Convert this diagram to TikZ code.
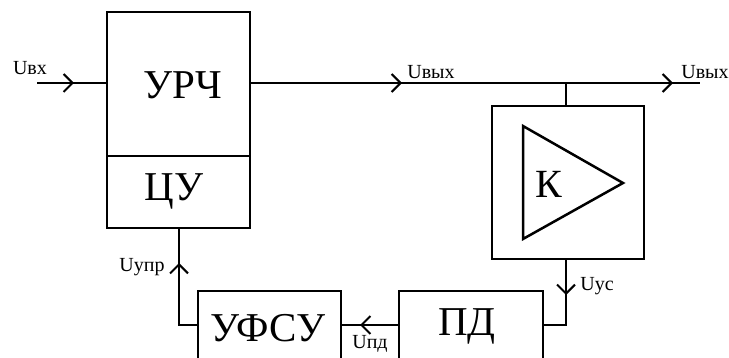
\documentclass[tikz,border=0pt]{standalone}
\usepackage{fontspec}
\setmainfont{Liberation Serif}
\usetikzlibrary{arrows.meta}
\begin{document}
\begin{tikzpicture}[x=1pt,y=-1pt,
  blk/.style={draw,line width=2pt,inner sep=0pt,font=\fontsize{41}{41}\selectfont},
  wire/.style={line width=2pt},
  tip/.style={line width=2pt,-{Straight Barb[length=9pt,width=18pt]}},
  lbl/.style={inner sep=0pt,font=\fontsize{20}{20}\selectfont}]
\useasboundingbox (0,0) rectangle (729,358);
\clip (0,0) rectangle (729,358);
% blocks
\node[blk,minimum width=143pt,minimum height=144pt] (urch) at (178.5,84) {};
\node[blk,minimum width=143pt,minimum height=72pt] (cu) at (178.5,192) {};
\node[blk,minimum width=152pt,minimum height=153pt] (k) at (568,182.5) {};
\node[blk,minimum width=143pt,minimum height=72pt,anchor=north] (ufsu) at (269.5,290) {};
\node[blk,minimum width=144pt,minimum height=72pt,anchor=north] (pd) at (471,290) {};
\node[blk,draw=none] (turch) at (183,85) {УРЧ};
\node[blk,draw=none] (tcu) at (174,191) {ЦУ};
\node[blk,draw=none] (tufsu) at (268,328) {УФСУ};
\node[blk,draw=none] (tpd) at (467,326) {ПД};
% amplifier triangle
\draw[line width=2.5pt,line join=miter] (523,126) coordinate (t1) -- (623,183) coordinate (t2) -- (523,239) coordinate (t3) -- cycle;
\node[inner sep=0pt,font=\fontsize{40}{40}\selectfont] (klbl) at (549,184) {К};
% coordinates
\coordinate (in) at (37,83);
\coordinate (inTip) at (74,83);
\coordinate (out) at (700,83);
\coordinate (j) at (566,83);
\coordinate (o1Tip) at (402,83);
\coordinate (o2Tip) at (673,83);
\coordinate (kb) at (566,259);
\coordinate (kt) at (566,106);
\coordinate (c1) at (566,325);
\coordinate (usTip) at (566,295);
\coordinate (pdTip) at (360,325);
\coordinate (c2) at (179,325);
\coordinate (uprTip) at (179,263);
\coordinate (cuB) at (179,228);
% wires
\draw[wire] (in) -- (urch.west |- in);
\draw[tip] (in) -- (inTip);
\draw[wire] (urch.east |- j) -- (out);
\draw[tip] (urch.east |- j) -- (o1Tip);
\draw[tip] (j) -- (o2Tip);
\draw[wire] (j) -- (kt);
\draw[wire] (kb) -- (c1) -- (pd.east |- c1);
\draw[tip] (kb) -- (usTip);
\draw[wire] (pd.west |- c1) -- (ufsu.east |- c1);
\draw[tip] (pd.west |- c1) -- (pdTip);
\draw[wire] (ufsu.west |- c1) -- (c2) -- (cuB);
\draw[tip] (c2) -- (uprTip);
% labels
\node[lbl] (lin) at (30,68) {Uвх};
\node[lbl] (lo1) at (431,72) {Uвых};
\node[lbl] (lo2) at (705,72) {Uвых};
\node[lbl] (lupr) at (142,267) {Uупр};
\node[lbl] (lus) at (597,286) {Uус};
\node[lbl] (lpd) at (370,344) {Uпд};
\end{tikzpicture}
\end{document}
